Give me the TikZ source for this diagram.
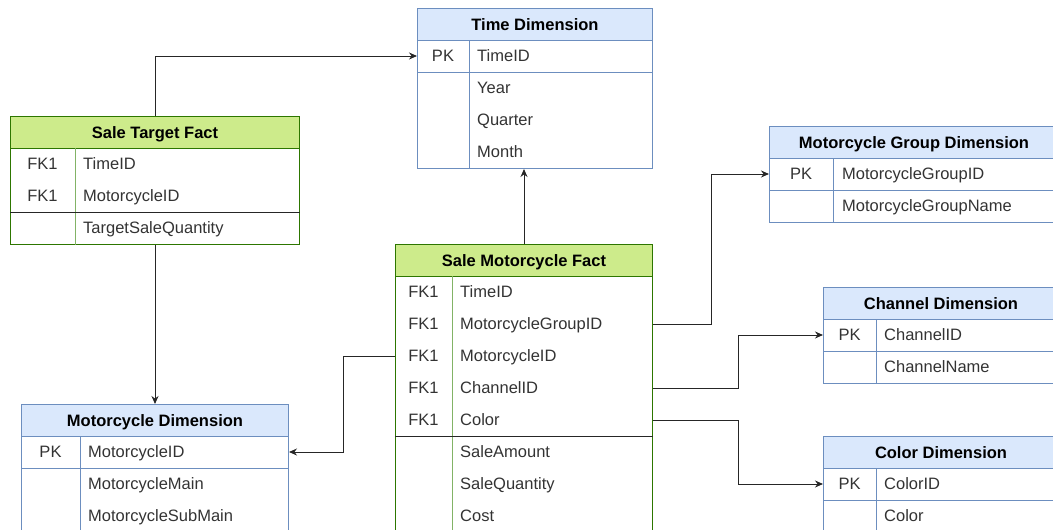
\documentclass[tikz,border=0pt]{standalone}
\usepackage{fontspec}
\setmainfont{Liberation Sans}
\usetikzlibrary{arrows.meta}

\definecolor{dimfill}{HTML}{DAE8FC}
\definecolor{dimline}{HTML}{6C8EBF}
\definecolor{factfill}{HTML}{CDEB8B}
\definecolor{factline}{HTML}{2D7600}
\definecolor{factcol}{HTML}{82B366}
\definecolor{celltext}{HTML}{333333}

\tikzset{
  txt/.style={inner sep=0pt, text height=11.6pt, text depth=0pt, font=\fontsize{16.5}{19}\selectfont},
  cell/.style={txt, anchor=west, text=celltext},
  keycell/.style={txt, text=celltext},
  dimhead/.style={txt, draw=dimline, fill=dimfill, line width=1pt, anchor=north west, minimum height=32pt, font=\fontsize{16.5}{19}\selectfont\bfseries},
  dimbody/.style={draw=dimline, line width=1pt, anchor=north west},
  facthead/.style={dimhead, draw=factline, fill=factfill},
  factbody/.style={draw=factline, line width=1pt, anchor=north west},
  fk/.style={draw=black!85, line width=1pt, -{Stealth[length=8pt,width=7pt]}}
}

\begin{document}
\begin{tikzpicture}[x=1pt,y=-1pt]
\clip (0,0) rectangle (1053,530);

% Time Dimension
\node[dimhead, minimum width=235pt] (timeHead) at (417,8) {Time Dimension};
\node[dimbody, minimum width=235pt, minimum height=128pt] (timeBody) at (417,40) {};
\draw[dimline, line width=1pt] ([xshift=52pt]timeBody.north west) -- ([xshift=52pt]timeBody.south west);
\draw[dimline, line width=1pt] ([yshift=-32pt]timeBody.north west) -- ([yshift=-32pt]timeBody.north east);
\node[keycell] at (443,56) {PK};
\foreach \t [count=\i] in {TimeID, Year, Quarter, Month}
  \node[cell] (time\i) at (477,24+32*\i) {\t};

% Sale Target Fact
\node[facthead, minimum width=289pt] (targetHead) at (10,116) {Sale Target Fact};
\node[factbody, minimum width=289pt, minimum height=96pt] (targetBody) at (10,148) {};
\draw[factcol, line width=1pt] ([xshift=65pt]targetBody.north west) -- ([xshift=65pt]targetBody.south west);
\draw[black!85, line width=1pt] ([yshift=-64pt]targetBody.north west) -- ([yshift=-64pt]targetBody.north east);
\foreach \k/\t [count=\i] in {FK1/TimeID, FK1/MotorcycleID, /TargetSaleQuantity} {
  \node[keycell] at (42.5,132+32*\i) {\k};
  \node[cell] (target\i) at (83,132+32*\i) {\t};
}

% Sale Motorcycle Fact
\node[facthead, minimum width=257pt] (saleHead) at (395,244) {Sale Motorcycle Fact};
\node[factbody, minimum width=257pt, minimum height=300pt] (saleBody) at (395,276) {};
\draw[factcol, line width=1pt] ([xshift=57pt]saleBody.north west) -- ([xshift=57pt]saleBody.south west);
\draw[black!85, line width=1pt] ([yshift=-160pt]saleBody.north west) -- ([yshift=-160pt]saleBody.north east);
\foreach \k/\t [count=\i] in {FK1/TimeID, FK1/MotorcycleGroupID, FK1/MotorcycleID, FK1/ChannelID,
    FK1/Color, /SaleAmount, /SaleQuantity, /Cost} {
  \node[keycell] at (423.5,260+32*\i) {\k};
  \node[cell] (sale\i) at (460,260+32*\i) {\t};
}

% Motorcycle Group Dimension
\node[dimhead, minimum width=289pt] (groupHead) at (769,126) {Motorcycle Group Dimension};
\node[dimbody, minimum width=289pt, minimum height=64pt] (groupBody) at (769,158) {};
\draw[dimline, line width=1pt] ([xshift=64pt]groupBody.north west) -- ([xshift=64pt]groupBody.south west);
\draw[dimline, line width=1pt] ([yshift=-32pt]groupBody.north west) -- ([yshift=-32pt]groupBody.north east);
\node[keycell] at (801,174) {PK};
\foreach \t [count=\i] in {MotorcycleGroupID, MotorcycleGroupName}
  \node[cell] (group\i) at (842,142+32*\i) {\t};

% Channel Dimension
\node[dimhead, minimum width=235pt] (channelHead) at (823,287) {Channel Dimension};
\node[dimbody, minimum width=235pt, minimum height=64pt] (channelBody) at (823,319) {};
\draw[dimline, line width=1pt] ([xshift=53pt]channelBody.north west) -- ([xshift=53pt]channelBody.south west);
\draw[dimline, line width=1pt] ([yshift=-32pt]channelBody.north west) -- ([yshift=-32pt]channelBody.north east);
\node[keycell] at (849.5,335) {PK};
\foreach \t [count=\i] in {ChannelID, ChannelName}
  \node[cell] (channel\i) at (884,303+32*\i) {\t};

% Color Dimension
\node[dimhead, minimum width=235pt] (colorHead) at (823,436) {Color Dimension};
\node[dimbody, minimum width=235pt, minimum height=110pt] (colorBody) at (823,468) {};
\draw[dimline, line width=1pt] ([xshift=53pt]colorBody.north west) -- ([xshift=53pt]colorBody.south west);
\draw[dimline, line width=1pt] ([yshift=-32pt]colorBody.north west) -- ([yshift=-32pt]colorBody.north east);
\node[keycell] at (849.5,484) {PK};
\foreach \t [count=\i] in {ColorID, Color}
  \node[cell] (color\i) at (884,452+32*\i) {\t};

% Motorcycle Dimension
\node[dimhead, minimum width=267pt] (motoHead) at (21,404) {Motorcycle Dimension};
\node[dimbody, minimum width=267pt, minimum height=140pt] (motoBody) at (21,436) {};
\draw[dimline, line width=1pt] ([xshift=59pt]motoBody.north west) -- ([xshift=59pt]motoBody.south west);
\draw[dimline, line width=1pt] ([yshift=-32pt]motoBody.north west) -- ([yshift=-32pt]motoBody.north east);
\node[keycell] at (50.5,452) {PK};
\foreach \t [count=\i] in {MotorcycleID, MotorcycleMain, MotorcycleSubMain}
  \node[cell] (moto\i) at (88,420+32*\i) {\t};

% foreign keys
\coordinate (groupTurn) at (711,0);
\coordinate (channelTurn) at (738,0);
\coordinate (motoTurn) at (343,0);
\draw[fk] (targetHead.north) |- (timeBody.west |- time1);
\draw[fk] (targetBody.south) -- (targetBody.south |- motoHead.north);
\draw[fk] (saleHead.north) -- (saleHead.north |- timeBody.south);
\draw[fk] (saleBody.east |- sale2) -| (groupTurn |- group1) -- (groupBody.west |- group1);
\draw[fk] (saleBody.east |- sale4) -| (channelTurn |- channel1) -- (channelBody.west |- channel1);
\draw[fk] (saleBody.east |- sale5) -| (channelTurn |- color1) -- (colorBody.west |- color1);
\draw[fk] (saleBody.west |- sale3) -| (motoTurn |- moto1) -- (motoBody.east |- moto1);
\end{tikzpicture}
\end{document}
